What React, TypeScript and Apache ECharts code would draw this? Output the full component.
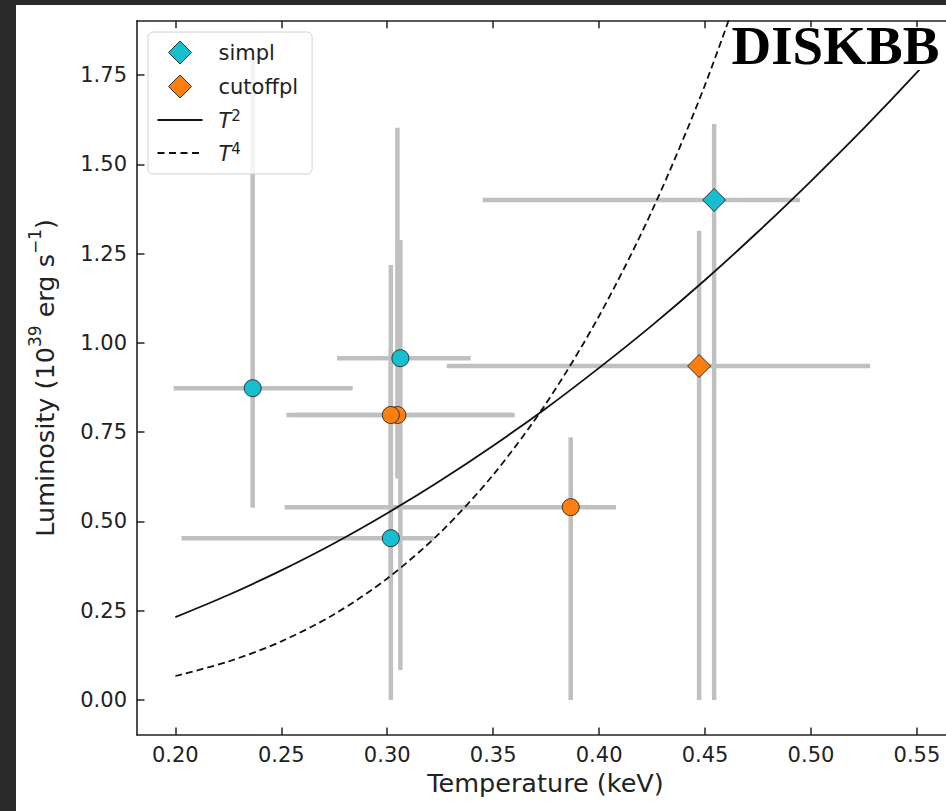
import React, { useEffect, useRef } from 'react';
import * as echarts from 'echarts';

// ---------- data ----------
const tempTicks = [0.2, 0.25, 0.3, 0.35, 0.4, 0.45, 0.5, 0.55];
const lumTicks = [0, 0.25, 0.5, 0.75, 1.0, 1.25, 1.5, 1.75];

// simpl
const simplT = [0.2365, 0.3062, 0.3017, 0.4543];
const simplL = [0.873, 0.957, 0.453, 1.4];
const simplTlo = [0.1992, 0.2763, 0.2029, 0.345];
const simplThi = [0.2837, 0.3394, 0.322, 0.4948];
const simplLlo = [0.538, 0.084, 0.0, 0.0];
const simplLhi = [1.798, 1.288, 0.98, 1.613];
const simplMarker = ['circle', 'circle', 'circle', 'diamond'];

// cutoffpl
const cutT = [0.3048, 0.3017, 0.3866, 0.4472];
const cutL = [0.798, 0.798, 0.54, 0.935];
const cutTlo = [0.256, 0.2524, 0.2516, 0.3281];
const cutThi = [0.359, 0.3602, 0.408, 0.5279];
const cutLlo = [0.62, 0.33, 0.0, 0.0];
const cutLhi = [1.602, 1.218, 0.736, 1.314];
const cutMarker = ['circle', 'circle', 'circle', 'diamond'];

// model curves
const curveT = [0.2, 0.225, 0.25, 0.275, 0.3, 0.325, 0.35, 0.375, 0.4, 0.425, 0.45, 0.475, 0.5, 0.525, 0.55, 0.575];
const curveT2 = [0.232, 0.294, 0.363, 0.439, 0.523, 0.614, 0.712, 0.817, 0.93, 1.049, 1.176, 1.311, 1.453, 1.601, 1.757, 1.921];
const curveT4T = [0.2, 0.225, 0.25, 0.275, 0.3, 0.325, 0.35, 0.375, 0.4, 0.425, 0.45, 0.475];
const curveT4 = [0.0672, 0.1077, 0.1641, 0.2402, 0.3402, 0.4686, 0.6303, 0.8306, 1.0752, 1.3702, 1.7222, 2.1382];

const xMin = 0.1819;
const xMax = 0.5675;
const yMin = -0.098;
const yMax = 1.902;

const FONT = 'DejaVu Sans';
const TEXT = '#222222';
const CYAN = '#17becf';
const ORANGE = '#ff7f0e';
const EDGE = '#333333';
const BAR = '#c0c0c0';

// legend icons (bounding box 45 x 23 set by the two leading moveTo points)
const ICON_DIAMOND = 'path://M0,0M45,23M22.5,0L34,11.5L22.5,23L11,11.5Z';
const ICON_SOLID = 'path://M0,0M45,23M0,10.5L45,10.5L45,12.5L0,12.5Z';
const ICON_DASHED =
  'path://M0,0M45,23M0,10.5L7,10.5L7,12.5L0,12.5ZM11.5,10.5L18.5,10.5L18.5,12.5L11.5,12.5ZM23,10.5L30,10.5L30,12.5L23,12.5ZM34.5,10.5L41.5,10.5L41.5,12.5L34.5,12.5Z';

function buildOption() {
  const errData: number[][] = [];
  simplT.forEach((t, i) => errData.push([t, simplL[i], simplTlo[i], simplThi[i], simplLlo[i], simplLhi[i]]));
  cutT.forEach((t, i) => errData.push([t, cutL[i], cutTlo[i], cutThi[i], cutLlo[i], cutLhi[i]]));

  const scatterData = (ts: number[], ls: number[], mk: string[]) =>
    ts.map((t, i) => ({
      value: [t, ls[i]],
      symbol: mk[i],
      symbolSize: mk[i] === 'diamond' ? 23 : 17,
    }));

  const tickCommon = {
    show: true,
    inside: true,
    length: 7.5,
    lineStyle: { color: TEXT, width: 1.5 },
  };
  const lineCommon = { show: true, onZero: false, lineStyle: { color: TEXT, width: 1.6 } };

  return {
    animation: false,
    backgroundColor: '#ffffff',
    grid: { left: 121, top: 15.7, width: 817, height: 714.3, containLabel: false, outerBoundsMode: 'none' },
    legend: {
      left: 132,
      top: 27,
      orient: 'vertical',
      data: [
        { name: 'simpl', icon: ICON_DIAMOND, itemStyle: { color: CYAN, borderColor: EDGE, borderWidth: 1 } },
        { name: 'cutoffpl', icon: ICON_DIAMOND, itemStyle: { color: ORANGE, borderColor: EDGE, borderWidth: 1 } },
        { name: 'T2', icon: ICON_SOLID, itemStyle: { color: '#111111', borderWidth: 0 } },
        { name: 'T4', icon: ICON_DASHED, itemStyle: { color: '#111111', borderWidth: 0 } },
      ],
      itemWidth: 45,
      itemHeight: 23,
      itemGap: 10,
      padding: [8.5, 14, 9.5, 9],
      backgroundColor: 'rgba(255,255,255,0.8)',
      borderColor: '#d0d0d0',
      borderWidth: 1,
      borderRadius: 5,
      selectedMode: false,
      formatter: (n: string) => (n === 'T2' ? '{it|T}{sup|2}' : n === 'T4' ? '{it|T}{sup|4}' : n),
      textStyle: {
        fontFamily: FONT,
        fontSize: 21,
        color: TEXT,
        lineHeight: 23,
        padding: [0, 0, 0, 11],
        rich: {
          it: { fontFamily: FONT, fontStyle: 'italic', fontSize: 21, lineHeight: 23, color: TEXT, verticalAlign: 'bottom' },
          sup: { fontFamily: FONT, fontSize: 15, lineHeight: 13, color: TEXT, verticalAlign: 'top' },
        },
      },
    },
    xAxis: [
      {
        type: 'value',
        min: xMin,
        max: xMax,
        position: 'bottom',
        name: 'Temperature (keV)',
        nameLocation: 'middle',
        nameGap: 35,
        nameTextStyle: { fontFamily: FONT, fontSize: 25.5, color: TEXT },
        axisLine: lineCommon,
        axisTick: { ...tickCommon, customValues: tempTicks },
        axisLabel: {
          show: true,
          customValues: tempTicks,
          formatter: (v: number) => v.toFixed(2),
          fontFamily: FONT,
          fontSize: 21,
          color: TEXT,
          margin: 9,
        },
        splitLine: { show: false },
      },
      {
        type: 'value',
        min: xMin,
        max: xMax,
        position: 'top',
        axisLine: lineCommon,
        axisTick: { ...tickCommon, customValues: tempTicks },
        axisLabel: { show: false },
        splitLine: { show: false },
      },
    ],
    yAxis: [
      {
        type: 'value',
        min: yMin,
        max: yMax,
        position: 'left',
        name: '{b|Luminosity (10}{s|39}{b| erg s}{s|\u22121}{b|)}',
        nameLocation: 'middle',
        nameRotate: 90,
        nameGap: 79,
        nameTextStyle: {
          fontFamily: FONT,
          color: TEXT,
          rich: {
            b: { fontFamily: FONT, fontSize: 25.5, lineHeight: 32, color: TEXT, verticalAlign: 'bottom' },
            s: { fontFamily: FONT, fontSize: 17, lineHeight: 17, color: TEXT, verticalAlign: 'top' },
          },
        },
        axisLine: lineCommon,
        axisTick: { ...tickCommon, customValues: lumTicks },
        axisLabel: {
          show: true,
          customValues: lumTicks,
          formatter: (v: number) => v.toFixed(2),
          fontFamily: FONT,
          fontSize: 21,
          color: TEXT,
          margin: 10,
        },
        splitLine: { show: false },
      },
      {
        type: 'value',
        min: yMin,
        max: yMax,
        position: 'right',
        axisLine: lineCommon,
        axisTick: { ...tickCommon, customValues: lumTicks },
        axisLabel: { show: false },
        splitLine: { show: false },
      },
    ],
    series: [
      {
        type: 'custom',
        name: 'errors',
        xAxisIndex: 0,
        yAxisIndex: 0,
        z: 1,
        clip: true,
        encode: { x: 0, y: 1 },
        data: errData,
        renderItem: (params: any, api: any) => {
          const x = api.value(0);
          const y = api.value(1);
          const h1 = api.coord([api.value(2), y]);
          const h2 = api.coord([api.value(3), y]);
          const v1 = api.coord([x, api.value(4)]);
          const v2 = api.coord([x, api.value(5)]);
          const style = { stroke: BAR, lineWidth: 4.5, fill: null };
          return {
            type: 'group',
            children: [
              { type: 'line', shape: { x1: h1[0], y1: h1[1], x2: h2[0], y2: h2[1] }, style },
              { type: 'line', shape: { x1: v1[0], y1: v1[1], x2: v2[0], y2: v2[1] }, style },
            ],
          };
        },
      },
      {
        type: 'line',
        name: 'T2',
        z: 2,
        symbol: 'none',
        smooth: 0.3,
        clip: true,
        data: curveT.map((t, i) => [t, curveT2[i]]),
        lineStyle: { color: '#111111', width: 1.8, type: 'solid' },
        itemStyle: { color: '#111111' },
      },
      {
        type: 'line',
        name: 'T4',
        z: 2,
        symbol: 'none',
        smooth: 0.3,
        clip: true,
        data: curveT4T.map((t, i) => [t, curveT4[i]]),
        lineStyle: { color: '#111111', width: 1.8, type: [7, 4] },
        itemStyle: { color: '#111111' },
      },
      {
        type: 'scatter',
        name: 'simpl',
        z: 3,
        symbol: 'diamond',
        symbolSize: 23,
        data: scatterData(simplT, simplL, simplMarker),
        itemStyle: { color: CYAN, borderColor: EDGE, borderWidth: 1, opacity: 1 },
      },
      {
        type: 'scatter',
        name: 'cutoffpl',
        z: 3,
        symbol: 'diamond',
        symbolSize: 23,
        data: scatterData(cutT, cutL, cutMarker),
        itemStyle: { color: ORANGE, borderColor: EDGE, borderWidth: 1, opacity: 1 },
      },
    ],
    graphic: [
      {
        type: 'rect',
        z: 100,
        shape: { x: 713, y: 22, width: 217, height: 43 },
        style: { fill: '#ffffff' },
      },
      {
        type: 'text',
        z: 101,
        x: 715.5,
        y: 40,
        style: {
          text: 'DISKBB',
          fontFamily: 'Liberation Serif',
          fontWeight: 'bold',
          fontSize: 55,
          fill: '#000000',
          verticalAlign: 'middle',
          align: 'left',
        },
      },
    ],
  };
}

export default function App() {
  const ref = useRef<HTMLDivElement>(null);
  useEffect(() => {
    if (!ref.current) return;
    const chart = echarts.init(ref.current, null, { renderer: 'svg' });
    chart.setOption(buildOption() as any);
    return () => chart.dispose();
  }, []);
  return (
    <div
      style={{
        position: 'absolute',
        left: 0,
        top: 0,
        width: 946,
        height: 811,
        background: '#2a2a2a',
        overflow: 'hidden',
      }}
    >
      <div ref={ref} style={{ position: 'absolute', left: 16, top: 5, width: 930, height: 806 }} />
    </div>
  );
}
